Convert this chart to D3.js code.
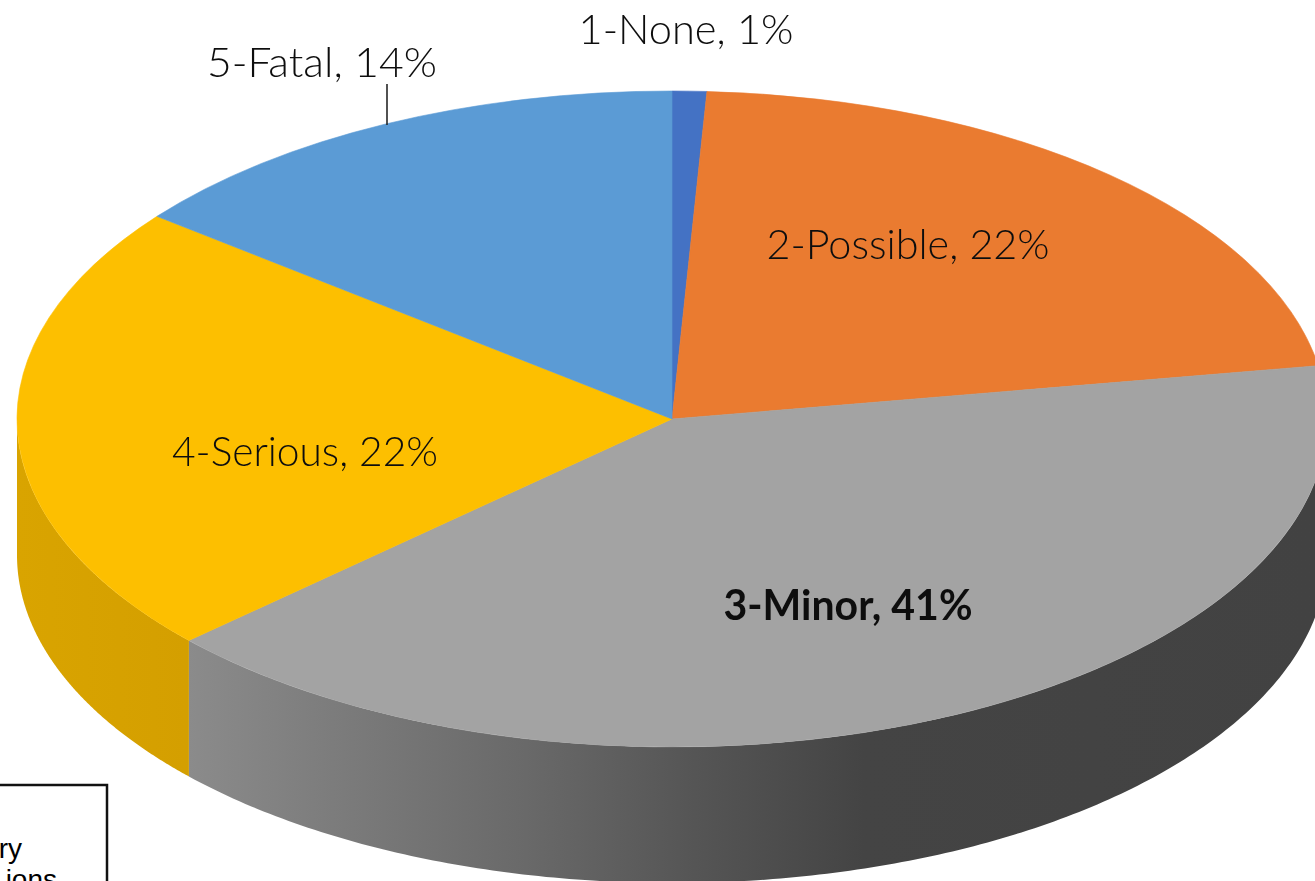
<!DOCTYPE html>
<html><head><meta charset="utf-8">
<script src="https://cdn.jsdelivr.net/npm/d3@7/dist/d3.min.js"></script>
<style>html,body{margin:0;padding:0;background:#fff;overflow:hidden}svg{display:block}</style>
</head><body><svg id="c" width="1315" height="881"></svg>
<script>
const categories = ["1-None","2-Possible","3-Minor","4-Serious","5-Fatal"];
const shares = [0.85,21.55,40.8,22.4,14.4];
const topColors = ["#4472c4","#ea7b30","#a3a3a3","#fdbf00","#5b9bd5"];
const labelCenterX = [686,908,848,305,322];
const labelBaseY = [44,259,620,466,77];
const labelWidth = [215,283,249,266,230];
const labelWeight = [300,300,700,300,300];

const W=1315,H=881,cx=672,cy=419,rx=655,ry=328,depth=136;
const svg=d3.select("#c");
const defs=svg.append("defs");
const wallGrad=defs.append("linearGradient").attr("id","wallGray").attr("gradientUnits","userSpaceOnUse")
  .attr("x1",188).attr("x2",1315).attr("y1",0).attr("y2",0);
[[0,"#8b8b8b"],[0.12,"#7d7d7d"],[0.3,"#696969"],[0.45,"#555555"],[0.6,"#444444"],[1,"#424242"]]
  .forEach(s=>wallGrad.append("stop").attr("offset",s[0]).attr("stop-color",s[1]));
const yGrad=defs.append("linearGradient").attr("id","wallYellow").attr("gradientUnits","userSpaceOnUse")
  .attr("x1",17).attr("x2",188).attr("y1",0).attr("y2",0);
[[0,"#d9a400"],[1,"#d49f00"]].forEach(s=>yGrad.append("stop").attr("offset",s[0]).attr("stop-color",s[1]));
const wallFill=["none","none","url(#wallGray)","url(#wallYellow)","none"];
defs.append("filter").attr("id","soft").attr("x","-5%").attr("y","-20%").attr("width","110%").attr("height","140%")
  .append("feGaussianBlur").attr("stdDeviation",0.45);

const arcs=d3.pie().sort(null).value(d=>d)(shares);
const px=a=>cx+rx*Math.sin(a), py=a=>cy-ry*Math.cos(a);

// side wall
const wall=d3.area().x(px).y0(py).y1(a=>py(a)+depth);
arcs.forEach((d,i)=>{
  const a0=Math.max(d.startAngle,Math.PI/2),a1=Math.min(d.endAngle,Math.PI*1.5);
  if(a1<=a0) return;
  const n=200,pts=d3.range(n+1).map(k=>a0+(a1-a0)*k/n);
  svg.append("path").attr("d",wall(pts)).attr("fill",wallFill[i]);
});

// top face
const arc=d3.arc().innerRadius(0).outerRadius(ry);
svg.append("g").attr("transform",`translate(${cx},${cy}) scale(${rx/ry},1)`)
  .selectAll("path").data(arcs).join("path")
  .attr("d",arc).attr("fill",(d,i)=>topColors[i]).attr("stroke",(d,i)=>topColors[i]).attr("stroke-width",0.4);

// leader line for 5-Fatal
svg.append("line").attr("x1",387).attr("x2",387).attr("y1",84).attr("y2",125)
  .attr("stroke","#262626").attr("stroke-width",1.6);

// labels
svg.append("g").attr("filter","url(#soft)").selectAll("text").data(categories).join("text")
  .attr("x",(d,i)=>labelCenterX[i]).attr("y",(d,i)=>labelBaseY[i])
  .attr("text-anchor","middle").attr("font-family","Lato, sans-serif")
  .attr("font-size",42).attr("font-weight",(d,i)=>labelWeight[i]).attr("fill","#111")
  .attr("textLength",(d,i)=>labelWidth[i]).attr("lengthAdjust","spacingAndGlyphs")
  .text((d,i)=>`${d}, ${Math.round(shares[i])}%`);

// clipped text box in the corner
svg.append("rect").attr("x",-6).attr("y",785).attr("width",113).attr("height",110)
  .attr("fill","#fff").attr("stroke","#111").attr("stroke-width",2.5);
const boxLines=["ry","ions"];
svg.append("g").selectAll("text").data(boxLines).join("text")
  .attr("x",(d,i)=>i?57:22).attr("y",(d,i)=>858+i*31).attr("text-anchor","end")
  .attr("font-family","'Liberation Sans', Arial, sans-serif").attr("font-size",28).attr("fill","#000")
  .text(d=>d);
</script></body></html>
